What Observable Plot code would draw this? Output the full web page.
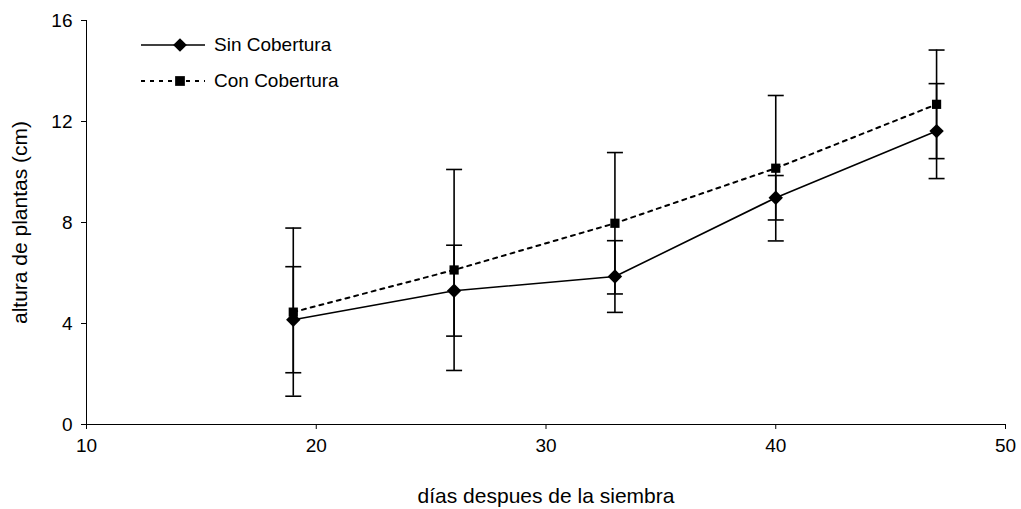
<!DOCTYPE html>
<html>
<head>
<meta charset="utf-8">
<script src="https://cdn.jsdelivr.net/npm/d3@7"></script>
<script src="https://cdn.jsdelivr.net/npm/@observablehq/plot@0.6"></script>
<style>
  html, body { margin: 0; padding: 0; background: #fff; }
  #wrap { position: relative; width: 1021px; height: 509px; font-family: "Liberation Sans", Arial, sans-serif; }
  #legend { position: absolute; left: 140px; top: 27px; font-size: 19px; color: #000; }
  .row { display: flex; align-items: center; height: 36px; }
  .row span { margin-left: 8px; }
</style>
</head>
<body>
<div id="wrap">
  <div id="chart"></div>
  <div id="legend"></div>
</div>
<script>
const dias = [19, 26, 33, 40, 47];
const sinCobertura = [4.15, 5.3, 5.86, 8.98, 11.62];
const sinError = [2.1, 1.8, 1.42, 0.88, 1.88];
const conCobertura = [4.45, 6.12, 7.97, 10.15, 12.68];
const conError = [3.33, 3.98, 2.8, 2.88, 2.15];
const xTicks = [10, 20, 30, 40, 50];
const yTicks = [0, 4, 8, 12, 16];

const sinData = dias.map((d, i) => ({x: d, y: sinCobertura[i], e: sinError[i]}));
const conData = dias.map((d, i) => ({x: d, y: conCobertura[i], e: conError[i]}));
const allErr = [...sinData, ...conData];
const caps = allErr.flatMap(d => [{x: d.x, y: d.y - d.e}, {x: d.x, y: d.y + d.e}]);

const capSymbol = {
  draw(ctx, size) {
    const w = Math.sqrt(size / Math.PI);
    ctx.moveTo(-w, 0);
    ctx.lineTo(w, 0);
  }
};

const chart = Plot.plot({
  width: 1021,
  height: 509,
  marginLeft: 86,
  marginRight: 16,
  marginTop: 20,
  marginBottom: 85,
  style: {fontFamily: '"Liberation Sans", Arial, sans-serif', fontSize: "19px", color: "#000", background: "#fff"},
  x: {domain: [10, 50]},
  y: {domain: [0, 16]},
  marks: [
    Plot.ruleY([0], {stroke: "#000", strokeWidth: 1}),
    Plot.ruleX([10], {stroke: "#000", strokeWidth: 1}),
    Plot.axisX({ticks: xTicks, tickSize: 5, tickPadding: 9, tickFormat: d3.format("d"), label: null, fontSize: 19}),
    Plot.axisX({ticks: [], label: "días despues de la siembra", labelAnchor: "center", labelArrow: "none", labelOffset: 78, fontSize: 21}),
    Plot.axisY({ticks: yTicks, tickSize: 5, tickPadding: 9, tickFormat: d3.format("d"), label: null, fontSize: 19}),
    Plot.axisY({ticks: [], label: "altura de plantas (cm)", labelAnchor: "center", labelArrow: "none", labelOffset: 74, fontSize: 21}),
    Plot.ruleX(allErr, {x: "x", y1: d => d.y - d.e, y2: d => d.y + d.e, stroke: "#000", strokeWidth: 1.6}),
    Plot.dot(caps, {x: "x", y: "y", symbol: capSymbol, r: 8, stroke: "#000", strokeWidth: 1.6, fill: "none"}),
    Plot.line(conData, {x: "x", y: "y", stroke: "#000", strokeWidth: 2, strokeDasharray: "4,5"}),
    Plot.line(sinData, {x: "x", y: "y", stroke: "#000", strokeWidth: 1.6}),
    Plot.dot(conData, {x: "x", y: "y", symbol: "square", r: 5.2, fill: "#000", stroke: "none"}),
    Plot.dot(sinData, {x: "x", y: "y", symbol: "diamond2", r: 6.5, fill: "#000", stroke: "none"})
  ]
});
d3.select(chart).selectAll('g[aria-label$="tick label"]').attr("font-size", 19).style("font-size", "19px")
  .selectAll("text").attr("font-size", 19).style("font-size", "19px");
document.getElementById("chart").append(chart);

// legend
const legendItems = [
  {name: "Sin Cobertura", dash: null, symbol: d3.symbolDiamond2, size: 120},
  {name: "Con Cobertura", dash: "4,5", symbol: d3.symbolSquare, size: 95}
];
const legend = d3.select("#legend");
for (const it of legendItems) {
  const row = legend.append("div").attr("class", "row");
  const svg = row.append("svg").attr("width", 66).attr("height", 20);
  svg.append("line").attr("x1", 1).attr("x2", 65).attr("y1", 10).attr("y2", 10)
    .attr("stroke", "#000").attr("stroke-width", it.dash ? 2 : 1.6)
    .attr("stroke-dasharray", it.dash);
  svg.append("path").attr("d", d3.symbol(it.symbol, it.size)()).attr("transform", "translate(40,10)").attr("fill", "#000");
  row.append("span").text(it.name);
}
</script>
</body>
</html>
